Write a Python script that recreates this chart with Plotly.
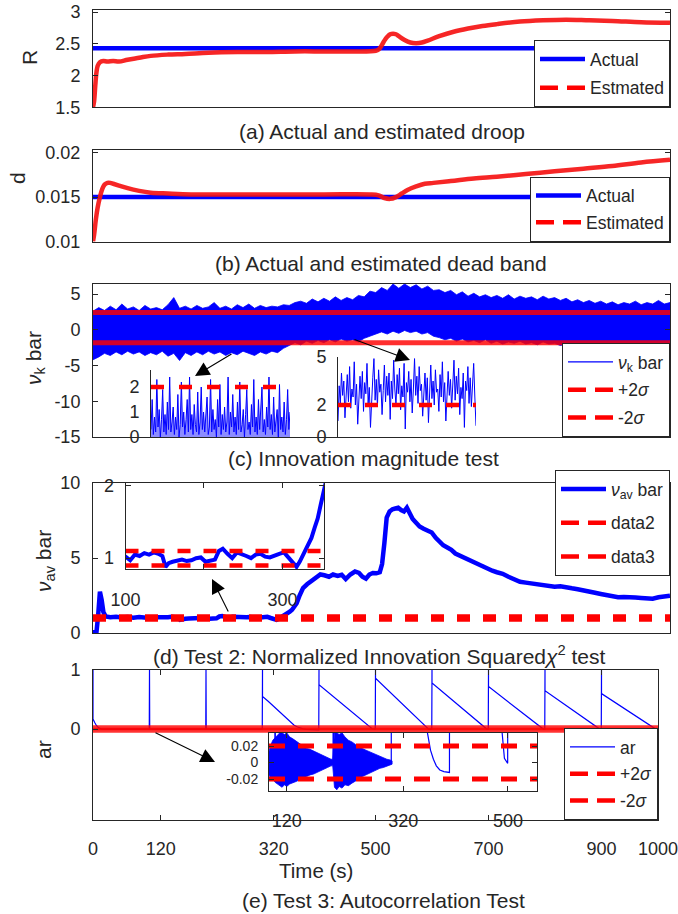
import plotly.graph_objects as go

W, H = 678, 914
FONT = "Liberation Sans, Arial, Helvetica, sans-serif"
INK = "#262626"
BLUE = "#0000ff"
RED = "#ff0000"

# ------------------------------------------------------------------ data
# (a) droop R
R_t = [0, 2, 4, 6, 8, 12, 18, 25, 35, 45, 60, 80, 100, 130, 160, 200, 250, 300, 350, 400, 450, 490,
       495, 500, 505, 510, 515, 520, 525, 530, 540, 550, 560, 570, 580, 600, 625, 650, 675, 700,
       740, 780, 820, 860, 900, 950, 1000]
R_est = [1.5, 1.6, 1.85, 2.05, 2.15, 2.21, 2.23, 2.22, 2.23, 2.22, 2.25, 2.28, 2.31, 2.33, 2.34, 2.36, 2.37, 2.37, 2.38, 2.38, 2.38, 2.39,
         2.41, 2.47, 2.55, 2.61, 2.65, 2.66, 2.65, 2.62, 2.56, 2.52, 2.51, 2.52, 2.55, 2.62, 2.69, 2.74, 2.78, 2.81,
         2.85, 2.87, 2.88, 2.87, 2.86, 2.84, 2.83]
R_actual = 2.43

# (b) dead band d
d_t = [0, 2, 5, 8, 12, 16, 20, 25, 30, 35, 45, 60, 80, 100, 130, 170, 220, 300, 400, 480,
       495, 505, 515, 525, 535, 545, 560, 575, 590, 620, 660, 700, 750, 800, 850, 900, 950, 1000]
d_est = [0.0100, 0.0108, 0.0125, 0.0138, 0.0150, 0.0159, 0.0164, 0.0166, 0.0166, 0.0165,
         0.0163, 0.0160, 0.0157, 0.0155, 0.0154, 0.0153, 0.0153, 0.0153, 0.0153, 0.0153,
         0.0152, 0.0149, 0.0148, 0.0150, 0.0154, 0.0158, 0.0162, 0.0165, 0.0166, 0.0168,
         0.0171, 0.0173, 0.0176, 0.0179, 0.0182, 0.0185, 0.0189, 0.0192]
d_actual = 0.015

# (c) innovation magnitude: envelope of the dense signal every 10 s
c_t = list(range(0, 1001, 10))
nu_upper = [2.6, 3.1, 2.7, 3.3, 2.8, 3.6, 2.9, 3.2, 2.7, 3.4,
            2.9, 3.1, 2.8, 3.5, 4.5, 3.0, 3.3, 2.9, 3.4, 3.0,
            3.2, 3.8, 3.0, 3.3, 2.9, 3.5, 3.1, 3.6, 3.0, 3.4,
            3.1, 3.3, 3.2, 3.5, 3.4, 3.8, 4.0, 3.7, 4.3, 3.9,
            4.4, 4.0, 4.6, 4.1, 4.5, 4.2, 4.8, 4.6, 5.4, 5.2,
            5.9, 5.5, 6.4, 5.8, 6.4, 5.9, 6.3, 5.7, 6.1, 5.5,
            5.6, 5.2, 5.5, 4.9, 5.3, 4.7, 5.1, 4.6, 4.9, 4.5,
            4.8, 4.4, 4.9, 4.3, 4.7, 4.4, 4.6, 4.2, 4.7, 4.3,
            4.5, 4.1, 4.4, 3.9, 4.2, 3.8, 4.1, 3.7, 4.0, 3.6,
            3.9, 3.5, 3.8, 3.6, 4.0, 3.5, 3.8, 3.6, 4.1, 3.6,
            3.8]
nu_lower = [-4.2, -3.8, -3.3, -3.6, -3.1, -3.5, -3.0, -3.4, -3.1, -3.6,
            -3.2, -3.5, -3.0, -3.7, -3.3, -4.3, -3.2, -3.6, -3.1, -3.5,
            -3.0, -3.4, -3.1, -3.6, -3.2, -3.5, -3.0, -3.3, -3.6, -3.1,
            -3.4, -3.0, -3.2, -2.6, -2.2, -1.8, -2.1, -1.6, -1.9, -1.5,
            -1.8, -1.4, -1.7, -1.3, -1.6, -1.4, -1.7, -1.2, -0.9, -0.6,
            -0.3, -0.6, -0.2, -0.5, -0.1, -0.4, -0.2, -0.6, -0.4, -0.9,
            -1.1, -1.4, -1.2, -1.6, -1.3, -1.7, -1.5, -1.8, -1.4, -1.9,
            -1.6, -2.0, -1.7, -1.9, -1.6, -2.0, -1.8, -2.1, -1.7, -2.0,
            -1.9, -2.2, -2.0, -2.4, -2.1, -2.6, -2.3, -2.5, -2.2, -2.7,
            -2.3, -2.5, -2.2, -2.6, -2.3, -2.5, -2.1, -2.6, -2.4, -2.2,
            -2.5]
c_sigma = [2.4, -1.8]
inset1_vals = [0.3, 1.5, 0.1, 0.8, 0.2, 2.3, 0.4, 1.1, 0.0, 0.7, 1.9, 0.2, 0.9, 0.1, 1.4, 0.3, 2.4, 0.2, 0.6, 1.2,
               0.1, 0.8, 0.3, 1.7, 0.0, 0.5, 2.2, 0.4, 1.0, 0.1, 0.7, 1.5, 0.2, 2.4, 0.3, 0.9, 0.1, 1.3, 0.5, 0.2,
               1.8, 0.1, 0.6, 2.0, 0.3, 1.0, 0.2, 0.8, 1.6, 0.1, 0.4, 2.3, 0.2, 1.1, 0.3, 0.7, 0.0, 1.5, 0.4, 2.1,
               0.1, 0.9, 0.3, 1.2, 0.2, 0.6, 2.4, 0.1, 1.0, 0.4, 1.7, 0.2, 0.8, 0.1, 1.4, 0.3, 2.2, 0.2, 0.5, 1.1,
               0.0, 0.9, 1.9, 0.3, 0.6, 0.1, 1.3, 0.4, 2.3, 0.2, 0.8, 0.1, 1.5, 0.3, 1.0, 2.0, 0.2, 0.7, 0.1, 1.2,
               0.4, 2.4, 0.3, 0.9, 0.1, 1.6, 0.2, 0.6, 1.1, 0.0, 2.1, 0.3, 0.8, 0.2, 1.4, 0.1, 0.7, 1.9, 0.3, 1.0]
inset2_vals = [1.0, 3.2, 2.1, 4.0, 2.6, 3.5, 1.2, 2.8, 3.9, 2.2, 4.4, 1.8, 3.0, 2.5, 4.7, 2.0, 3.3, 0.8, 2.9, 3.8,
               2.4, 4.1, 1.6, 3.4, 2.7, 4.6, 2.1, 3.1, 0.6, 2.5, 3.7, 4.9, 2.3, 3.6, 1.9, 4.2, 2.8, 3.3, 1.4, 2.9,
               4.5, 2.2, 3.8, 2.6, 4.0, 1.1, 3.5, 2.4, 4.8, 3.0, 2.0, 3.9, 2.7, 4.3, 1.7, 3.2, 2.5, 4.6, 0.5, 3.4,
               2.8, 4.1, 2.2, 3.6, 1.5, 3.0, 4.9, 2.6, 3.8, 2.1, 4.4, 2.9, 3.3, 1.3, 2.7, 4.0, 2.3, 3.7, 0.9, 3.1,
               4.5, 2.4, 3.5, 2.0, 4.2, 2.8, 3.0, 1.6, 3.9, 2.5, 4.7, 2.2, 3.4, 1.0, 2.9, 4.1, 2.6, 3.6, 1.8, 3.2,
               4.8, 2.3, 3.8, 2.7, 4.3, 1.4, 3.1, 2.4, 4.0, 0.6, 3.5, 2.9, 4.4, 2.1, 3.7, 1.9, 3.3, 4.6, 2.5, 0.7]
inset_sigma = 2

# (d) normalized innovation squared
nuav_t = [0, 6, 9, 12, 15, 18, 22, 30, 40, 50,
          60, 70, 80, 90, 100, 106, 112, 118, 124, 130,
          136, 142, 147, 151, 155, 160, 166, 172, 178, 184,
          190, 196, 202, 208, 214, 219, 224, 230, 236, 242,
          248, 254, 260, 266, 272, 278, 284, 290, 296, 302,
          308, 314, 318, 322, 327, 332, 337, 341, 345, 349,
          353, 358, 364, 371, 379, 386, 394, 401, 409, 416,
          424, 431, 438, 446, 454, 461, 467, 473, 479, 485,
          491, 497, 501, 505, 509, 514, 519, 524, 529, 534,
          539, 544, 549, 554, 560, 566, 573, 580, 587, 594,
          600, 607, 614, 621, 628, 636, 644, 652, 660, 668,
          676, 684, 692, 700, 710, 720, 730, 740, 750, 760,
          770, 780, 790, 800, 810, 820, 830, 840, 850, 860,
          870, 880, 890, 900, 910, 920, 930, 940, 950, 960,
          970, 980, 990, 1000]
nuav = [0.05, 0.05, 1.2, 2.75, 2.2, 1.4, 1.1, 1.05, 1.08, 1.03,
        1.06, 1.02, 1.07, 1.04, 1.02, 0.97, 1.05, 1.03, 1.07, 1.05,
        1.08, 1.06, 1.03, 0.88, 0.93, 0.95, 0.97, 0.98, 0.96, 0.97,
        1.0, 1.01, 0.95, 0.97, 0.98, 1.1, 1.13, 1.06, 1.0, 1.08,
        1.06, 1.03, 1.0, 1.05, 1.06, 1.02, 1.01, 1.04, 1.06, 1.08,
        1.0, 0.93, 0.88, 0.95, 1.06, 1.2, 1.28, 1.42, 1.55, 1.75,
        1.98, 2.5, 3.0, 3.25, 3.45, 3.7, 3.9, 3.85, 3.75, 3.9,
        3.8, 3.88, 3.6, 3.9, 4.1, 4.0, 3.75, 3.62, 3.9, 4.0,
        3.98, 4.05, 4.6, 6.0, 7.7, 8.1, 8.25, 8.3, 8.35, 8.2,
        8.1, 8.35, 7.9, 7.6, 7.35, 7.1, 6.95, 6.85, 6.7, 6.35,
        6.1, 5.85, 5.7, 5.55, 5.3, 5.15, 5.05, 4.9, 4.75, 4.6,
        4.45, 4.3, 4.15, 4.05, 3.95, 3.75, 3.55, 3.42, 3.36, 3.3,
        3.28, 3.22, 3.15, 3.08, 3.12, 3.02, 2.98, 2.92, 2.82, 2.75,
        2.68, 2.6, 2.52, 2.45, 2.38, 2.4, 2.35, 2.37, 2.34, 2.32,
        2.28, 2.38, 2.45, 2.48]
data2_level = 1.1
data3_level = 0.9

# (e) autocorrelation
ar_t = [0, 0, 3, 6, 10, 15, 99.6, 100, 100.4, 199.6, 200, 200.4, 299.6, 300, 300,
        310, 320, 330, 340, 350, 356, 362, 367, 372, 377, 383, 390, 399.6,
        400, 400, 494, 498, 499.6, 500, 500, 594, 599.6, 600, 600, 697, 699.6,
        700, 700, 797, 799.6, 800, 800, 897, 899.6, 900, 900, 996, 1000]
ar_v = [1, 0.17, 0.11, 0.06, 0.02, 0.0, 0.0, 1, 0.0, 0.0, 1, 0.0, 0.0, 1, 0.55,
        0.47, 0.38, 0.29, 0.20, 0.11, 0.065, 0.035, 0.015, 0.004, -0.004, -0.009, -0.011, -0.012,
        1, 0.75, 0.005, 0.0, -0.001, 1, 0.86, 0.0, 0.0, 1, 0.78, 0.0, 0.0,
        1, 0.72, 0.0, 0.0, 1, 0.65, 0.0, 0.0, 1, 0.60, 0.0, 0.0]
ar_noise_t = [89, 92, 96, 100, 104, 108, 112, 116, 120, 125,
              130, 136, 142, 148, 154, 160, 166, 172, 178, 184,
              190, 196, 199, 202, 206, 210, 215, 220, 226, 232,
              238, 244, 250, 256, 262, 268, 274, 280, 286, 292,
              298, 301]
ar_noise_up = [0.012, 0.02, 0.027, 0.03, 0.033, 0.036, 0.036, 0.034, 0.036, 0.031,
               0.029, 0.026, 0.023, 0.02, 0.017, 0.016, 0.014, 0.012, 0.01, 0.008,
               0.006, 0.004, 0.004, 0.036, 0.036, 0.034, 0.036, 0.031, 0.027, 0.025,
               0.022, 0.019, 0.017, 0.015, 0.013, 0.011, 0.009, 0.007, 0.006, 0.004,
               0.003, 0.002]
ar_noise_lo = [-0.015, -0.018, -0.02, -0.024, -0.026, -0.028, -0.03, -0.027, -0.029, -0.026,
               -0.025, -0.023, -0.021, -0.02, -0.017, -0.015, -0.014, -0.012, -0.01, -0.008,
               -0.006, -0.004, -0.004, -0.03, -0.033, -0.029, -0.031, -0.027, -0.028, -0.025,
               -0.022, -0.02, -0.017, -0.015, -0.013, -0.011, -0.009, -0.007, -0.006, -0.004,
               -0.003, -0.002]
ar_sigma = [0.02, -0.02]

x_ticks_e = [0, 120, 320, 500, 700, 900, 1000]
x_ticks_e_inset = [120, 320, 500]

# ------------------------------------------------------------------ helpers
def xd(a, b):
    return [a / W, b / W]

def yd(top, bottom):
    return [1 - bottom / H, 1 - top / H]

def px(x):
    return x / W

def py(y):
    return 1 - y / H

tickfont = dict(family=FONT, size=18, color=INK)
tickfont_small = dict(family=FONT, size=14, color=INK)

def yax(dom, rng, tv, tt=None, anchor=None, mirror="ticks", line=True, ticks="inside",
        standoff=8, font=None):
    d = dict(domain=dom, range=rng, tickvals=tv, showgrid=False, zeroline=False,
             showline=line, linecolor=INK, linewidth=1, mirror=mirror, ticks=ticks,
             ticklen=5, tickcolor=INK, tickfont=font or tickfont, anchor=anchor,
             ticklabelstandoff=standoff, automargin=False, fixedrange=True)
    if tt is not None:
        d["ticktext"] = tt
    return d

def xax(dom, rng, anchor, tv=None, tt=None, labels=False, mirror=True, visible=True,
        standoff=0, font=None):
    d = dict(domain=dom, range=rng, anchor=anchor, showgrid=False, zeroline=False,
             showline=True, linecolor=INK, linewidth=1, mirror=mirror,
             ticks="inside" if tv is not None else "", ticklen=5, tickcolor=INK,
             showticklabels=labels, tickfont=font or tickfont, visible=visible,
             ticklabelstandoff=standoff, ticklabeloverflow="allow",
             automargin=False, fixedrange=True)
    if tv is not None:
        d["tickvals"] = tv
    if tt is not None:
        d["ticktext"] = tt
    return d

fig = go.Figure()

def add(x, y, xa, ya, **kw):
    fig.add_trace(go.Scatter(x=x, y=y, xaxis=xa, yaxis=ya, mode="lines",
                             showlegend=False, hoverinfo="skip", **kw))

def leg(name, legend, color, width, dash="solid", group=None):
    fig.add_trace(go.Scatter(x=[None], y=[None], mode="lines", name=name, legend=legend,
                             legendgroup=group or name + legend,
                             line=dict(color=color, width=width, dash=dash), hoverinfo="skip"))

LDASH = "18px,9px"

# (a)
add([0, 1000], [R_actual, R_actual], "x", "y", line=dict(color=BLUE, width=4.5))
add(R_t, R_est, "x", "y", line=dict(color="rgba(245,20,20,0.92)", width=4.5, shape="spline"))
leg("Actual", "legend", BLUE, 4.5)
leg("Estmated", "legend", RED, 4.5, LDASH)

# (b)
add([0, 1000], [d_actual, d_actual], "x2", "y2", line=dict(color=BLUE, width=4.5))
add(d_t, d_est, "x2", "y2", line=dict(color="rgba(245,20,20,0.92)", width=4.5, shape="spline"))
leg("Actual", "legend2", BLUE, 4.5)
leg("Estimated", "legend2", RED, 4.5, LDASH)

# (c)
add(c_t + c_t[::-1], nu_upper + nu_lower[::-1], "x3", "y3", fill="toself",
    fillcolor=BLUE, line=dict(color=BLUE, width=0.8))
for s in c_sigma:
    add([0, 1000], [s, s], "x3", "y3", line=dict(color="rgba(255,0,0,0.82)", width=5))
idx1 = list(range(len(inset1_vals)))
add(idx1, inset1_vals, "x4", "y4", fill="tozeroy", fillcolor="rgba(0,0,255,0.45)",
    line=dict(color=BLUE, width=1))
add([0, len(inset1_vals) - 1], [inset_sigma, inset_sigma], "x4", "y4",
    line=dict(color=RED, width=4.5, dash="13px,15px"))
idx2 = list(range(len(inset2_vals)))
add(idx2, inset2_vals, "x5", "y5", line=dict(color=BLUE, width=1))
add([0, len(inset2_vals) - 1], [inset_sigma, inset_sigma], "x5", "y5",
    line=dict(color=RED, width=4.5, dash="13px,14px"))
leg("<i>ν</i><sub>k</sub> bar", "legend3", BLUE, 1.2)
leg("+2<i>σ</i>", "legend3", RED, 4.5, LDASH)
leg("-2<i>σ</i>", "legend3", RED, 4.5, LDASH)

# (d)
add(nuav_t, nuav, "x6", "y6", line=dict(color=BLUE, width=4.5))
for lv in (data2_level, data3_level):
    add([0, 1000], [lv, lv], "x6", "y6", line=dict(color=RED, width=4.5, dash="13px,13px"))
add(nuav_t, nuav, "x7", "y7", line=dict(color=BLUE, width=4))
for lv in (data2_level, data3_level):
    add([100, 360], [lv, lv], "x7", "y7", line=dict(color=RED, width=4.5, dash="13px,13px"))
leg("<i>ν</i><sub>av</sub> bar", "legend4", BLUE, 4.5)
leg("data2", "legend4", RED, 4.5, LDASH)
leg("data3", "legend4", RED, 4.5, LDASH)

# (e)
add(ar_t, ar_v, "x8", "y8", line=dict(color=BLUE, width=1.2))
for s in ar_sigma:
    add([0, 1000], [s, s], "x8", "y8", line=dict(color="rgba(255,0,0,0.8)", width=5))
add(ar_noise_t + ar_noise_t[::-1], ar_noise_up + ar_noise_lo[::-1], "x9", "y9",
    fill="toself", fillcolor=BLUE, line=dict(color=BLUE, width=0.8))
add(ar_t, ar_v, "x9", "y9", line=dict(color=BLUE, width=1.2))
for s in ar_sigma:
    add([89.5, 550], [s, s], "x9", "y9", line=dict(color=RED, width=5, dash="16px,13px"))
leg("ar", "legend5", BLUE, 1.2)
leg("+2<i>σ</i>", "legend5", RED, 4.5, LDASH)
leg("-2<i>σ</i>", "legend5", RED, 4.5, LDASH)

# ------------------------------------------------------------------ layout
def legend_box(right, bottom, gap):
    return dict(x=px(right), xanchor="right", y=py(bottom), yanchor="bottom",
                bgcolor="white", bordercolor=INK, borderwidth=1,
                font=dict(family=FONT, size=17.5, color=INK),
                traceorder="grouped", tracegroupgap=gap, itemwidth=45)

layout = dict(
    width=W, height=H, autosize=False,
    margin=dict(l=0, r=0, t=0, b=0, pad=0, autoexpand=False),
    paper_bgcolor="white", plot_bgcolor="white",
    font=dict(family=FONT, color=INK),
    # (a)
    xaxis=xax(xd(93, 670), [0, 1000], "y"),
    yaxis=yax(yd(9.5, 107.3), [1.5, 3.04], [1.5, 2, 2.5, 3], anchor="x"),
    # (b)
    xaxis2=xax(xd(93, 670), [0, 1000], "y2"),
    yaxis2=yax(yd(150, 241.5), [0.01, 0.0203], [0.01, 0.015, 0.02], anchor="x2"),
    # (c)
    xaxis3=xax(xd(93, 670), [0, 1000], "y3"),
    yaxis3=yax(yd(284, 437), [-15, 6.4], [-15, -10, -5, 0, 5],
               ["-15", "-10", "-5", "0", "5"], anchor="x3"),
    xaxis4=xax(xd(151, 290), [0, len(inset1_vals) - 1], "y4", visible=False),
    yaxis4=yax(yd(370, 437), [0, 2.68], [0, 1, 2], anchor="x4", mirror=False, ticks="", standoff=7),
    xaxis5=xax(xd(338, 476), [0, len(inset2_vals) - 1], "y5", visible=False),
    yaxis5=yax(yd(357, 437), [0, 5], [0, 2, 5], anchor="x5", mirror=False, ticks="", standoff=7),
    # (d)
    xaxis6=xax(xd(93, 670), [0, 1000], "y6"),
    yaxis6=yax(yd(483, 633), [0, 10], [0, 5, 10], anchor="x6"),
    xaxis7=xax(xd(125.5, 324), [100, 353], "y7", tv=[100, 200, 300], tt=["100", "", "300"],
               labels=True, mirror="ticks", standoff=14),
    yaxis7=yax(yd(483, 569), [0.85, 2.04], [1, 2], anchor="x7", standoff=7),
    # (e)
    xaxis8=xax(xd(93, 658), [0, 1000], "y8", tv=x_ticks_e, labels=True, mirror="ticks", standoff=12),
    yaxis8=yax(yd(670, 820), [-1.54, 1], [0, 1], anchor="x8"),
    xaxis9=xax(xd(269, 537), [89.5, 550], "y9", tv=x_ticks_e_inset, labels=True, mirror="ticks",
               standoff=13),
    yaxis9=yax(yd(733, 791), [-0.0345, 0.0358], [-0.02, 0, 0.02], ["-0.02", "0", "0.02"],
               anchor="x9", standoff=7, font=tickfont_small),
    legend=legend_box(670, 107, 3),
    legend2=legend_box(670, 241.5, 1),
    legend3=legend_box(670, 437, 2),
    legend4=legend_box(670, 576, 8),
    legend5=legend_box(658, 820, 1),
)
fig.update_layout(**layout)

annotations = []
def text(s, x, y, size=21, angle=0):
    annotations.append(dict(text=s, x=px(x), y=py(y), xref="paper", yref="paper",
                            xanchor="center", yanchor="middle", showarrow=False,
                            textangle=angle, font=dict(family=FONT, size=size, color=INK)))

text("(a) Actual and estimated droop", 382, 131)
text("(b) Actual and estimated dead band", 381, 263)
text("(c) Innovation magnitude test", 363, 458)
text("(d) Test 2: Normalized Innovation Squared<i>χ</i><sup>2</sup> test", 379, 655)
text("Time (s)", 316, 870, size=20.5)
text("(e) Test 3: Autocorrelation Test", 383, 900)
text("R", 29, 58, angle=-90)
text("d", 18, 178, angle=-90)
text("<i>ν</i><sub>k</sub> bar", 35, 358, angle=-90)
text("<i>ν</i><sub>av</sub> bar", 45, 561, angle=-90)
text("ar", 43, 750, angle=-90)

def arrow(tail, head):
    annotations.append(dict(text="", x=px(head[0]), y=py(head[1]), xref="paper", yref="paper",
                            ax=tail[0] - head[0], ay=tail[1] - head[1], axref="pixel", ayref="pixel",
                            showarrow=True, arrowhead=2, arrowsize=2.6, arrowwidth=1.1,
                            arrowcolor="black", standoff=0, startstandoff=0))

arrow((233, 353), (195, 376))
arrow((353, 339), (410, 360))
arrow((229, 613), (212, 579))
arrow((154, 732), (215, 762))

fig.update_layout(annotations=annotations)
fig.write_html("out.html", config={"displayModeBar": False, "staticPlot": True})
